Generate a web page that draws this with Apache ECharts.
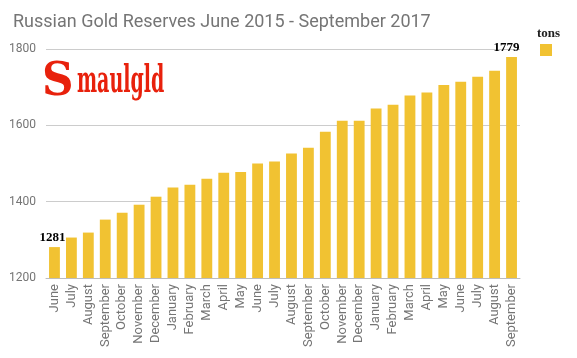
<!DOCTYPE html>
<html>
<head>
<meta charset="utf-8">
<script src="https://cdn.jsdelivr.net/npm/echarts@6/dist/echarts.min.js"></script>
<style>html,body{margin:0;padding:0;background:#fff;}#c{width:577px;height:358px;}</style>
</head>
<body>
<div id="c"></div>
<script>
var categories = ['June','July','August','September','October','November','December',
  'January','February','March','April','May','June','July','August','September','October','November','December',
  'January','February','March','April','May','June','July','August','September'];
var tons = [1281,1306,1319,1353,1371,1392,1413,1437,1444,1460,1476,1478,1500,1505,1526,1541,1583,1612,1612,1644,1654,1678,1686,1706,1714,1727,1743,1779];
var yTicks = {min:1200, max:1800, interval:200};
var titleText = 'Russian Gold Reserves June 2015 - September 2017';
var seriesName = 'tons';

var labelStyle = {show:true, position:'top', color:'#000', fontFamily:'"Liberation Serif","DejaVu Serif",serif', fontWeight:'bold', fontSize:13, distance:3};
var seriesData = tons.map(function(v,i){
  if (i === 0) return {value:v, label:Object.assign({}, labelStyle, {offset:[-2,0]})};
  if (i === tons.length-1) return {value:v, label:Object.assign({}, labelStyle, {offset:[-5,0]})};
  return v;
});

var chart = echarts.init(document.getElementById('c'), null, {renderer:'canvas'});
chart.setOption({
  animation:false,
  backgroundColor:'#fff',
  title:[
    {text:titleText, left:8, top:8, textStyle:{fontFamily:'Roboto', fontWeight:'normal', fontSize:18, color:'#757575'}},
    {text:seriesName, left:532, top:22, textStyle:{fontFamily:'"Liberation Serif","DejaVu Serif",serif', fontWeight:'bold', fontSize:13, color:'#222'}}
  ],
  legend:{show:true, right:20, top:39, itemWidth:12, itemHeight:12, icon:'rect', formatter:function(){return '';}, itemGap:0, data:[seriesName]},
  grid:{left:46, right:57, top:49, bottom:80, containLabel:false},
  xAxis:{type:'category', data:categories,
    axisLine:{show:true, lineStyle:{color:'#bdbdbd'}},
    axisTick:{show:false},
    axisLabel:{rotate:90, interval:0, color:'#757575', fontFamily:'Roboto', fontSize:13, margin:6}
  },
  yAxis:{type:'value', min:yTicks.min, max:yTicks.max, interval:yTicks.interval,
    axisLine:{show:false}, axisTick:{show:false},
    axisLabel:{color:'#757575', fontFamily:'Roboto', fontSize:12, margin:10, formatter:function(v){return String(v);}},
    splitLine:{lineStyle:{color:'#cccccc'}}
  },
  series:[{name:seriesName, type:'bar', data:seriesData, barWidth:'64%', itemStyle:{color:'#f1c232'}}],
  graphic:[
    {type:'text', x:42, y:60, scaleX:0.95, style:{text:'S', fontFamily:'"DejaVu Serif","Liberation Serif",serif', fontWeight:'bold', fontSize:46, fill:'#e8210c'}},
    {type:'text', x:77, y:63, scaleX:0.5, style:{text:'maulgld', fontFamily:'"DejaVu Serif","Liberation Serif",serif', fontWeight:'bold', fontSize:38, fill:'#e8210c'}}
  ]
});
</script>
</body>
</html>
